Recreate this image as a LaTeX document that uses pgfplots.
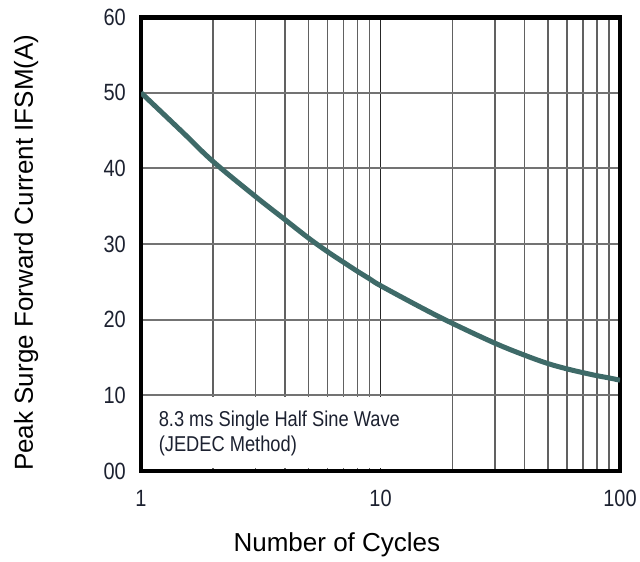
\documentclass[border=0pt]{standalone}
\usepackage{fontspec}
\setmainfont{Liberation Sans}
\newfontfamily\narrowfont[FakeStretch=0.85]{Liberation Sans}
\usepackage{pgfplots}
\pgfplotsset{compat=1.18}

\definecolor{curvecol}{HTML}{3E6A68}
\definecolor{tickcol}{HTML}{1C2130}

\begin{document}
\begin{tikzpicture}
\begin{axis}[
    set layers,
    xmode=log,
    scale only axis,
    width=479bp, height=454bp,
    xmin=1, xmax=100,
    ymin=0, ymax=60,
    xtick={1,10,100},
    xticklabels={1,10,100},
    minor xtick={2,3,4,5,6,7,8,9,20,30,40,50,60,70,80,90},
    ytick={0,10,20,30,40,50,60},
    yticklabels={00,10,20,30,40,50,60},
    extra y ticks={10,20,30,40,50},
    extra y tick labels={},
    extra y tick style={grid=major, major grid style={black!55, line width=1.7bp}},
    xmajorgrids, xminorgrids,
    major grid style={black!85, line width=1.8bp},
    minor grid style={black!62, line width=1.5bp},
    major tick length=0pt, minor tick length=0pt,
    axis line style={line width=4.5bp, black},
    /pgf/number format/assume math mode=true,
    xticklabel style={font=\narrowfont\fontsize{23.5bp}{23.5bp}\selectfont, text=tickcol,
        anchor=base, inner sep=0pt, yshift=-35bp},
    yticklabel style={font=\narrowfont\fontsize{23.5bp}{23.5bp}\selectfont, text=tickcol,
        anchor=east, inner sep=0pt, xshift=-15bp},
    xlabel={Number of Cycles},
    ylabel={Peak Surge Forward Current IFSM(A)},
    label style={font=\fontsize{26bp}{30bp}\selectfont},
    xlabel style={at={(axis description cs:0.409,-0.178)}, anchor=base},
    ylabel style={at={(axis description cs:-0.2255,0.481)}, anchor=base},
]
% white panel behind the note
\fill[white] ([shift={(3bp,3bp)}]rel axis cs:0,0) rectangle ([yshift=-1.2bp]axis cs:15,10);

\addplot[curvecol, line width=5bp, smooth, tension=0.6] coordinates {
(1,50) (1.5,44.7) (2,40.9) (3,36.3) (4,33.2) (5,30.8) (6,29.0) (7,27.6)
(8,26.4) (9,25.4) (10,24.5) (15,21.5) (20,19.5) (30,16.9) (40,15.3)
(50,14.2) (60,13.5) (70,13.0) (80,12.6) (90,12.3) (100,12.0)
};

\node[anchor=west, inner sep=0pt, text=tickcol, font=\narrowfont\fontsize{21.5bp}{24bp}\selectfont]
    at (rel axis cs:0.0367,0.1108) {8.3 ms Single Half Sine Wave};
\node[anchor=west, inner sep=0pt, text=tickcol, font=\narrowfont\fontsize{21.5bp}{24bp}\selectfont]
    at (rel axis cs:0.0367,0.0562) {(JEDEC Method)};
\draw[line width=6bp, black] (rel axis cs:0,1) -- (rel axis cs:1,1);
\end{axis}
\pgfresetboundingbox
\path[use as bounding box] (-141bp,-91bp) rectangle (499bp,471bp);
\end{tikzpicture}
\end{document}
